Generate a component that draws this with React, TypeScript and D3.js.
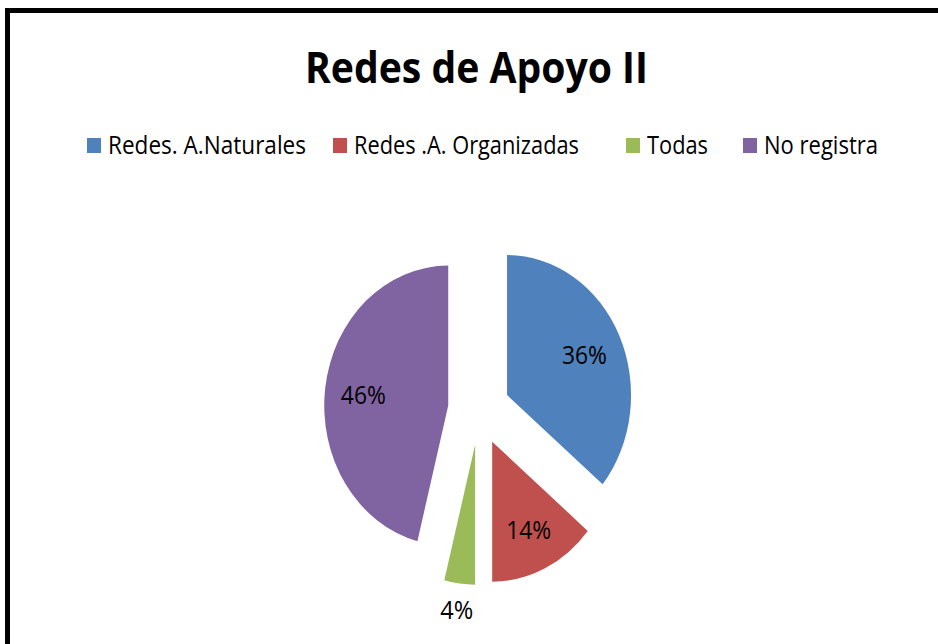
import React from 'react';
import * as d3 from 'd3';

// data
const categories = ['Redes. A.Naturales', 'Redes .A. Organizadas', 'Todas', 'No registra'];
const values = [36, 14, 4, 46];
const colors = ['#4F81BD', '#C0504D', '#9BBB59', '#8064A2'];

// layout of the legend (x of each swatch, width of each label)
const legendX = [87, 333, 626, 743];
const legendTextW = [198, 225, 61, 114];

const W = 938;
const H = 644;
const font = "'Open Sans', 'Noto Sans', sans-serif";

const App: React.FC = () => {
  const cx = 479;
  const cy = 410;
  const r = 140;
  const sx = 124 / 140; // pie is squeezed horizontally
  const explode = 35;

  const pie = d3.pie<number>().sort(null).value(d => d);
  const arcs = pie(values);
  const arc = d3.arc<d3.PieArcDatum<number>>().innerRadius(0).outerRadius(r);
  const total = d3.sum(values);

  return (
    <svg width={W} height={H} style={{ position: 'absolute', left: 0, top: 0, background: '#fff' }}>
      <rect x={7.5} y={10.5} width={1000} height={1000} fill="#fff" stroke="#000" strokeWidth={5} />

      <text x={476.5} y={83} textAnchor="middle" fontFamily={font} fontWeight="bold" fontSize={43}
        textLength={343} lengthAdjust="spacingAndGlyphs" fill="#000">
        Redes de Apoyo II
      </text>

      {categories.map((c, i) => (
        <g key={c}>
          <rect x={legendX[i]} y={138} width={14} height={15} fill={colors[i]} />
          <text x={legendX[i] + 21} y={154} fontFamily={font} fontSize={26} fill="#000"
            textLength={legendTextW[i]} lengthAdjust="spacingAndGlyphs">
            {c}
          </text>
        </g>
      ))}

      {arcs.map((a, i) => {
        const mid = (a.startAngle + a.endAngle) / 2;
        const ox = Math.sin(mid) * explode;
        const oy = -Math.cos(mid) * explode;
        const pct = a.data / total;
        const lr = explode + (pct < 0.05 ? r * 1.18 : r * 0.69);
        const lx = cx + sx * Math.sin(mid) * lr;
        const ly = cy - Math.cos(mid) * lr;
        return (
          <g key={i}>
            <g transform={`translate(${cx},${cy}) scale(${sx},1) translate(${ox},${oy})`}>
              <path d={arc(a) || ''} fill={colors[i]} />
            </g>
            <text x={lx} y={ly} textAnchor="middle" dominantBaseline="central" fontFamily={font}
              fontSize={26} fill="#000" textLength={a.data < 10 ? 33 : 45} lengthAdjust="spacingAndGlyphs">
              {`${a.data}%`}
            </text>
          </g>
        );
      })}
    </svg>
  );
};

export default App;
